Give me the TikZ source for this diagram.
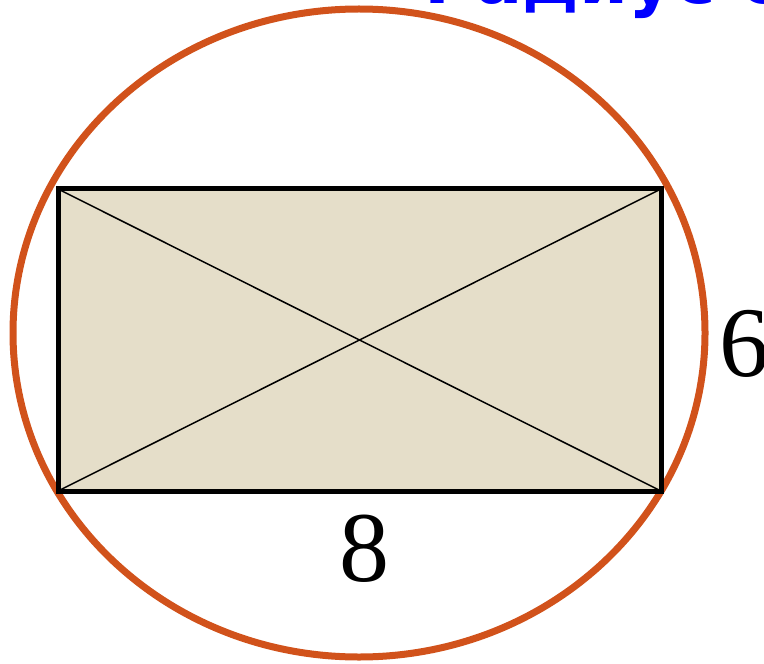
\documentclass[tikz,border=0pt]{standalone}
\usepackage{fontspec}
\setmainfont{Liberation Serif}
\newfontfamily\titlefont{DejaVu Sans Bold}
\definecolor{rimorange}{RGB}{209,82,27}
\definecolor{rectfill}{RGB}{229,222,201}
\definecolor{titleblue}{RGB}{0,0,255}
\usetikzlibrary{positioning}

\begin{document}
\begin{tikzpicture}[x=0.5pt,y=-0.5pt,
  side/.style={inner sep=0pt,font=\fontsize{50}{50}\selectfont},
  rim/.style={draw=rimorange,line width=3.5pt},
  frame/.style={draw=black,line width=2.5pt,fill=rectfill}]
  \useasboundingbox (0,0) rectangle (764,663);
  % corners of the rectangle
  \coordinate (tl) at (58,189);
  \coordinate (tr) at (661,189);
  \coordinate (br) at (661,491);
  \coordinate (bl) at (58,491);
  \draw[rim] (359,333) ellipse [x radius=346,y radius=324];
  \draw[frame] (tl) rectangle (br);
  \draw[line width=0.75pt] (tl) -- (br);
  \draw[line width=0.75pt] (bl) -- (tr);
  \node[side] (w) at (364,549) {8};
  \node[side] (h) at (744,344) {6};
  \node[inner sep=0pt,anchor=base west,text=titleblue,font=\titlefont\fontsize{35}{35}\selectfont] (title) at (424,4) {Радиус о};
\end{tikzpicture}
\end{document}
